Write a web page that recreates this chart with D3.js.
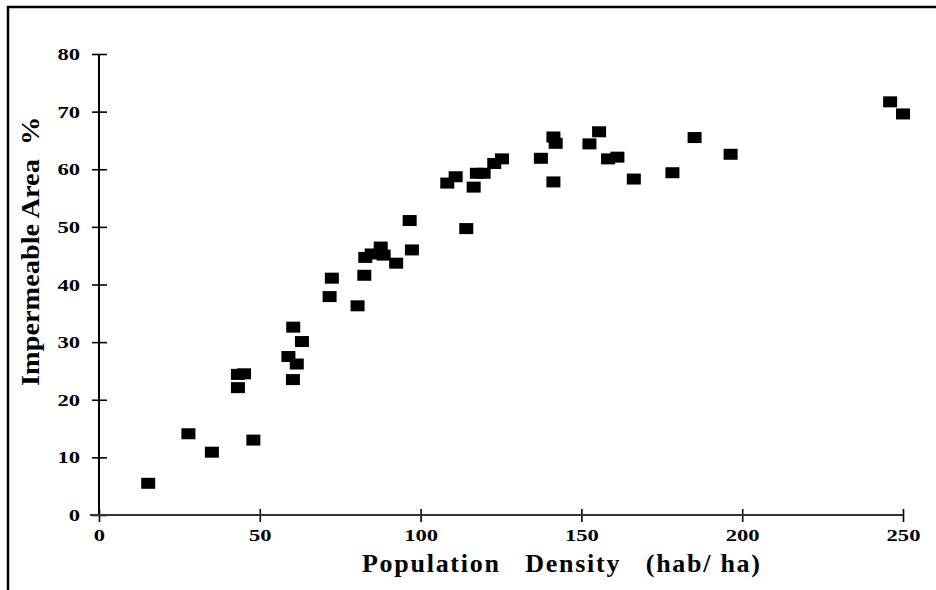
<!DOCTYPE html>
<html><head><meta charset="utf-8">
<script src="https://cdn.jsdelivr.net/npm/d3@7"></script>
<style>
html,body{margin:0;padding:0;background:#fff;}
svg{display:block;}
</style></head>
<body>
<svg id="chart" width="936" height="590"></svg>
<script>
const density = [15.3, 27.8, 35.1, 43.2, 43.2, 45.1, 48.0, 58.9, 60.4, 60.3, 61.5, 63.1,
  71.7, 72.4, 80.4, 82.5, 82.8, 84.8, 87.6, 88.5, 92.4, 96.6, 97.3,
  108.3, 110.9, 114.2, 116.5, 117.5, 119.6, 122.9, 125.3,
  137.4, 141.3, 142.0, 141.3, 152.5, 155.5, 158.3, 161.2, 166.3, 178.3, 185.2, 196.4, 246.0, 250.0];
const impermeable = [5.5, 14.1, 10.9, 22.1, 24.4, 24.5, 13.0, 27.5, 32.6, 23.5, 26.2, 30.1,
  37.9, 41.1, 36.3, 41.6, 44.7, 45.3, 46.5, 45.1, 43.7, 51.1, 46.0,
  57.6, 58.7, 49.7, 56.9, 59.3, 59.3, 61.0, 61.8,
  61.9, 65.6, 64.5, 57.8, 64.4, 66.5, 61.8, 62.1, 58.3, 59.4, 65.5, 62.6, 71.7, 69.6];
const xTicks = [0, 50, 100, 150, 200, 250];
const yTicks = [0, 10, 20, 30, 40, 50, 60, 70, 80];
const xTitle = "Population   Density   (hab/ ha)";
const yTitle = "Impermeable Area  %";

const svg = d3.select("#chart");
const x = d3.scaleLinear().domain([0, 250]).range([99, 903]);
const y = d3.scaleLinear().domain([0, 80]).range([515, 54]);
const serif = "'Liberation Serif', 'Times New Roman', serif";

// frame (top and left)
svg.append("path").attr("d", "M8,590 L8,7 L936,7")
  .attr("fill", "none").attr("stroke", "#000").attr("stroke-width", 2.5);

function styleTicks(sel) {
  sel.attr("font-family", serif).attr("font-weight", "bold")
    .attr("font-size", 17.5).attr("fill", "#000")
    .attr("lengthAdjust", "spacingAndGlyphs")
    .attr("textLength", function () { return this.textContent.length * 11.3; });
}

// y axis
const gy = svg.append("g").attr("transform", `translate(${x(0)},0)`)
  .call(d3.axisLeft(y).tickValues(yTicks).tickSize(7).tickPadding(12).tickFormat(d3.format("d")));
gy.select(".domain").remove();
gy.selectAll(".tick line").attr("x1", -7).attr("x2", 8).attr("stroke", "#000").attr("stroke-width", 1.6);
styleTicks(gy.selectAll(".tick text"));
gy.append("line").attr("x1", 0).attr("x2", 0).attr("y1", y(80)).attr("y2", y(0))
  .attr("stroke", "#000").attr("stroke-width", 2);

// x axis
const gx = svg.append("g").attr("transform", `translate(0,${y(0)})`)
  .call(d3.axisBottom(x).tickValues(xTicks).tickSize(7).tickPadding(7).tickFormat(d3.format("d")));
gx.select(".domain").remove();
gx.selectAll(".tick line").attr("y1", -6).attr("y2", 7).attr("stroke", "#000").attr("stroke-width", 1.6);
styleTicks(gx.selectAll(".tick text"));
gx.append("line").attr("x1", 90).attr("x2", x(250)).attr("y1", 0).attr("y2", 0)
  .attr("stroke", "#333").attr("stroke-width", 2.2);

// points
const data = density.map((d, i) => ({x: d, y: impermeable[i]}));
svg.append("g").selectAll("rect").data(data).join("rect")
  .attr("x", d => x(d.x) - 7).attr("y", d => y(d.y) - 5.5)
  .attr("width", 14).attr("height", 11).attr("fill", "#000");

// titles
svg.append("text").attr("x", 362).attr("y", 572)
  .attr("font-family", serif).attr("font-weight", "bold")
  .attr("font-size", 26).attr("fill", "#000").style("white-space", "pre")
  .attr("textLength", 398).attr("lengthAdjust", "spacing")
  .text(xTitle);

svg.append("text").attr("transform", "translate(39,386) rotate(-90) scale(1.09,1)")
  .attr("font-family", serif).attr("font-weight", "bold")
  .attr("font-size", 26).attr("fill", "#000").style("white-space", "pre")
  .text(yTitle);
</script>
</body></html>
